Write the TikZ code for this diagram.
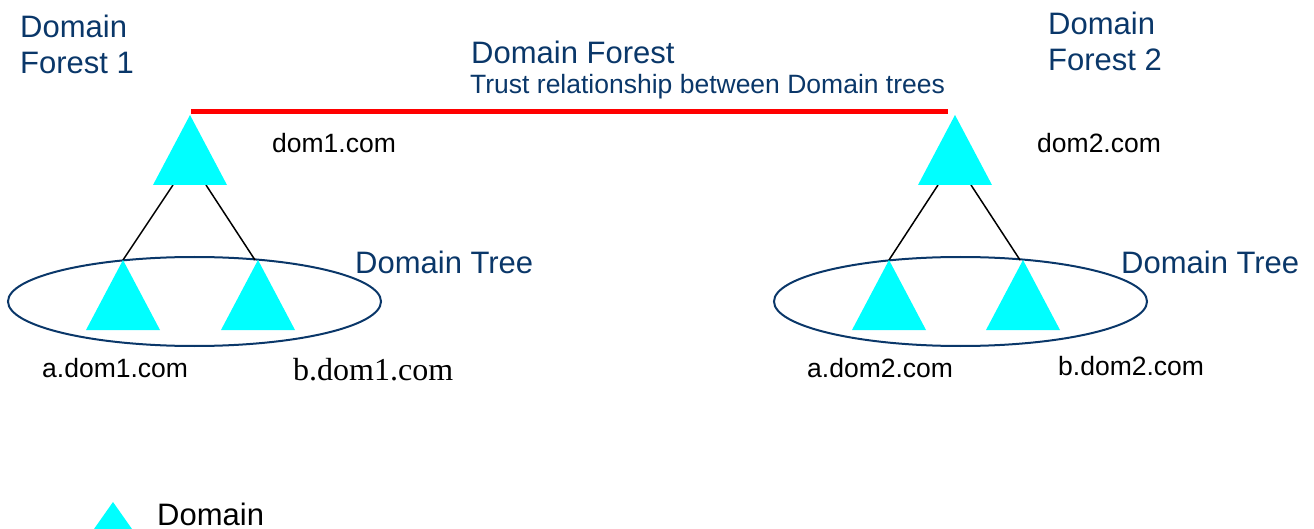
\documentclass[tikz,border=0pt]{standalone}
\usepackage{fontspec}
\setmainfont{Liberation Sans}
\newfontfamily\serifdom{Liberation Serif}
\usetikzlibrary{shapes.geometric,calc}
\definecolor{dblue}{RGB}{10,55,105}
\definecolor{dcyan}{RGB}{0,255,255}
\definecolor{tred}{RGB}{255,0,0}
\begin{document}
\begin{tikzpicture}[x=1pt,y=-1pt,
  big/.style={font=\fontsize{31}{36}\selectfont, text=dblue, anchor=base west, inner sep=0pt},
  sub/.style={font=\fontsize{26.5}{30}\selectfont, text=dblue, anchor=base west, inner sep=0pt},
  lbl/.style={font=\fontsize{26.5}{30}\selectfont, text=black, anchor=base west, inner sep=0pt},
  slbl/.style={font=\serifdom\fontsize{32}{36}\selectfont, text=black, anchor=base west, inner sep=0pt},
  tree/.style={ellipse, draw=dblue, line width=2pt, minimum width=373pt, minimum height=89pt, inner sep=0pt},
  domfill/.style={fill=dcyan},
  conn/.style={draw=black, line width=1.5pt},
  trust/.style={draw=tred, line width=5pt}]
\useasboundingbox (0,0) rectangle (1314,529);

% domain tree ellipses
\node[tree] (e1) at (194.5,301.5) {};
\node[tree] (e2) at (960.5,301.5) {};

% domain apex coordinates
\coordinate (t1) at (190,115);
\coordinate (a1) at (123,260);
\coordinate (b1) at (258,260);
\coordinate (t2) at (955,115);
\coordinate (a2) at (889,260);
\coordinate (b2) at (1023,260);
\coordinate (lg) at (113,502);

% connectors
\draw[conn] ($(t1)+(-17,70)$) -- (a1);
\draw[conn] ($(t1)+(16,70)$) -- ($(b1)+(-3,0)$);
\draw[conn] ($(t2)+(-17,70)$) -- (a2);
\draw[conn] ($(t2)+(16,70)$) -- ($(b2)+(-3,0)$);

% domain triangles
\foreach \t in {t1,a1,b1,t2,a2,b2}{
  \fill[domfill] (\t) -- ++(-37,70) -- ++(74,0) -- cycle;
}
\fill[domfill] (lg) -- ++(-19,27) -- ++(38,0) -- cycle;

% trust relationship
\draw[trust] ($(t1)+(1,-3.5)$) -- ($(t2)+(-7,-3.5)$);

% texts
\node[big] (f1a) at (20,38) {Domain};
\node[big] (f1b) at (20,74) {Forest 1};
\node[big] (f2a) at (1048,34.5) {Domain};
\node[big] (f2b) at (1048,71) {Forest 2};
\node[big] (df) at (471,64) {Domain Forest};
\node[sub] (tr) at (470,94) {Trust relationship between Domain trees};
\node[lbl] (d1) at (272,153) {dom1.com};
\node[lbl] (d2) at (1037,153) {dom2.com};
\node[big] (dt1) at (355,273) {Domain Tree};
\node[big] (dt2) at (1121,273) {Domain Tree};
\node[lbl] (la1) at (42,377) {a.dom1.com};
\node[slbl] (lb1) at (293,380) {b.dom1.com};
\node[lbl] (la2) at (807,377) {a.dom2.com};
\node[lbl] (lb2) at (1058,375) {b.dom2.com};
\node[big, text=black] (lgd) at (157,525) {Domain};
\end{tikzpicture}
\end{document}
